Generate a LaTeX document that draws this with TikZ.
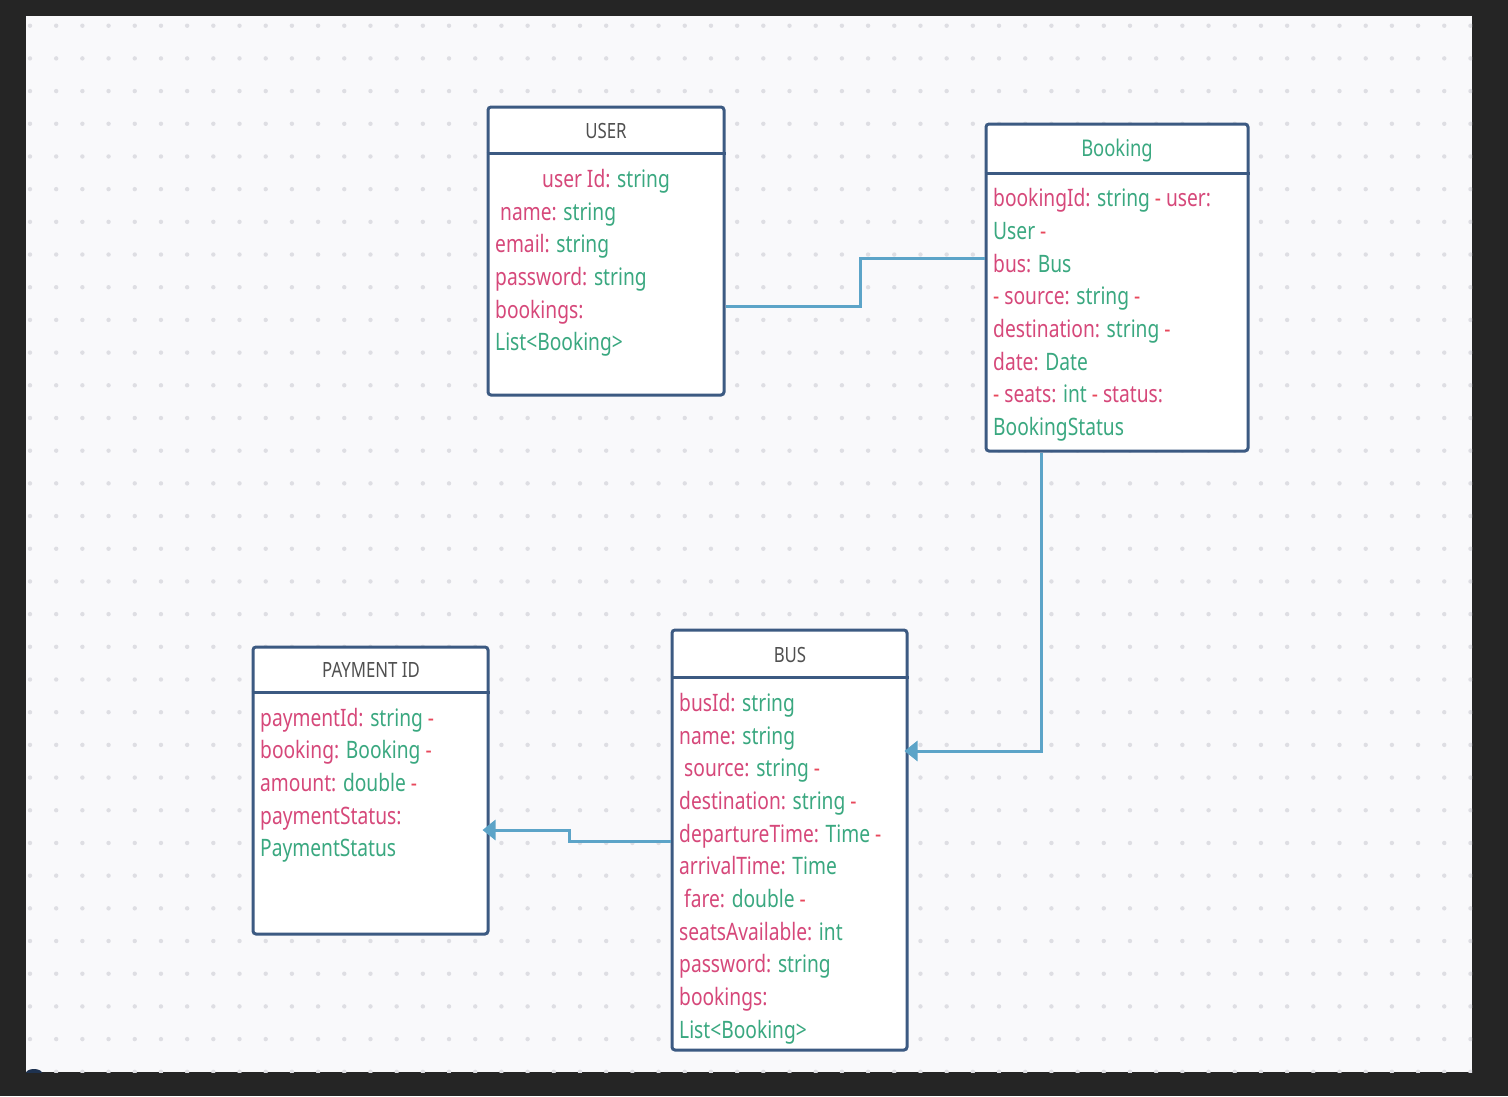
\documentclass[tikz,border=0pt]{standalone}
\usepackage{fontspec}
\setmainfont{Noto Sans}[FakeStretch=0.8]
\usetikzlibrary{arrows.meta,calc}

\definecolor{frame}{RGB}{37,37,37}
\definecolor{canvas}{RGB}{249,249,251}
\definecolor{dotc}{RGB}{222,222,227}
\definecolor{boxc}{RGB}{60,90,130}
\definecolor{linkc}{RGB}{92,164,200}
\definecolor{attrc}{RGB}{214,72,122}
\definecolor{typec}{RGB}{58,168,128}
\definecolor{dashc}{RGB}{232,72,92}
\definecolor{titlec}{RGB}{80,80,80}
\definecolor{cursorc}{RGB}{30,50,80}

\newcommand\attr[1]{\textcolor{attrc}{#1}}
\newcommand\typ[1]{\textcolor{typec}{#1}}
\newcommand\dsh{\textcolor{dashc}{-}}

\tikzset{
  classbox/.style={draw=boxc, line width=3pt, fill=white, rounded corners=3pt, inner sep=0pt},
  divider/.style={draw=boxc, line width=3pt},
  title/.style={inner sep=0pt, font=\fontsize{21}{26}\selectfont, text=titlec},
  fld/.style={anchor=mid west, inner sep=0pt, font=\fontsize{24}{29}\selectfont},
  link/.style={draw=linkc, line width=3pt},
  linkarrow/.style={link, -{Triangle[length=13pt,width=20pt]}}
}

\begin{document}
\begin{tikzpicture}[x=1pt,y=-1pt]
\useasboundingbox (0,0) rectangle (1508,1096);
% frame and dotted canvas
\fill[frame] (0,0) rectangle (1508,1096);
\fill[canvas] (26,16) rectangle (1472,1072);
\begin{scope}
  \clip (26,16) rectangle (1472,1072);
  \foreach \i in {0,...,55}
    \foreach \j in {0,...,32}
      \fill[dotc] ({30+26.19*\i},{25.7+32.69*\j}) circle (2.2pt);
  \fill[cursorc] (34,1073) ellipse (8pt and 4pt);
\end{scope}

% ---- USER ----
\node[classbox, minimum width=236pt, minimum height=288pt] (user) at (606,251) {};
\draw[divider] (user.west |- 0,153) -- (user.east |- 0,153);
\node[title] (usert) at (606,131) {USER};
\node[fld] (u1) at (542,185) {\attr{user Id:} \typ{string}};
\node[fld] (u2) at (500,218) {\attr{name:} \typ{string}};
\node[fld] (u3) at (495,250) {\attr{email:} \typ{string}};
\node[fld] (u4) at (495,283) {\attr{password:} \typ{string}};
\node[fld] (u5) at (495,316) {\attr{bookings:}};
\node[fld] (u6) at (495,348) {\typ{List<Booking>}};

% ---- Booking ----
\node[classbox, minimum width=262pt, minimum height=327pt] (booking) at (1117,287.5) {};
\draw[divider] (booking.west |- 0,173) -- (booking.east |- 0,173);
\node[title, text=typec, font=\fontsize{23}{28}\selectfont] (bookingt) at (1117,151) {Booking};
\node[fld] (b1) at (993,204) {\attr{bookingId:} \typ{string} \dsh{} \attr{user:}};
\node[fld] (b2) at (993,237) {\typ{User} \dsh};
\node[fld] (b3) at (993,270) {\attr{bus:} \typ{Bus}};
\node[fld] (b4) at (993,302) {\dsh{} \attr{source:} \typ{string} \dsh};
\node[fld] (b5) at (993,335) {\attr{destination:} \typ{string} \dsh};
\node[fld] (b6) at (993,368) {\attr{date:} \typ{Date}};
\node[fld] (b7) at (993,400) {\dsh{} \attr{seats:} \typ{int} \dsh{} \attr{status:}};
\node[fld] (b8) at (993,433) {\typ{BookingStatus}};

% ---- PAYMENT ID ----
\node[classbox, minimum width=235pt, minimum height=287pt] (payment) at (370.5,790.5) {};
\draw[divider] (payment.west |- 0,692) -- (payment.east |- 0,692);
\node[title] (paymentt) at (371,670) {PAYMENT ID};
\node[fld] (p1) at (260,724) {\attr{paymentId:} \typ{string} \dsh};
\node[fld] (p2) at (260,756) {\attr{booking:} \typ{Booking} \dsh};
\node[fld] (p3) at (260,789) {\attr{amount:} \typ{double} \dsh};
\node[fld] (p4) at (260,822) {\attr{paymentStatus:}};
\node[fld] (p5) at (260,854) {\typ{PaymentStatus}};

% ---- BUS ----
\node[classbox, minimum width=235pt, minimum height=420pt] (bus) at (789.5,840) {};
\draw[divider] (bus.west |- 0,677) -- (bus.east |- 0,677);
\node[title] (bust) at (790,655) {BUS};
\node[fld] (s1)  at (679,709)  {\attr{busId:} \typ{string}};
\node[fld] (s2)  at (679,742)  {\attr{name:} \typ{string}};
\node[fld] (s3)  at (684,774)  {\attr{source:} \typ{string} \dsh};
\node[fld] (s4)  at (679,807)  {\attr{destination:} \typ{string} \dsh};
\node[fld] (s5)  at (679,840)  {\attr{departureTime:} \typ{Time} \dsh};
\node[fld] (s6)  at (679,872)  {\attr{arrivalTime:} \typ{Time}};
\node[fld] (s7)  at (684,905)  {\attr{fare:} \typ{double} \dsh};
\node[fld] (s8)  at (679,938)  {\attr{seatsAvailable:} \typ{int}};
\node[fld] (s9)  at (679,970)  {\attr{password:} \typ{string}};
\node[fld] (s10) at (679,1003) {\attr{bookings:}};
\node[fld] (s11) at (679,1036) {\typ{List<Booking>}};

% ---- connectors ----
\draw[link] ([yshift=-55pt]user.east) -- ++(135,0) |- ([yshift=29.5pt]booking.west);
\draw[linkarrow, shorten >=-4pt] ([xshift=-76pt]booking.south) |- ([yshift=89pt]bus.east);
\draw[linkarrow, shorten >=-7pt] ([yshift=-1pt]bus.west) -- ++(-101,0) |- ([yshift=-39.5pt]payment.east);
\end{tikzpicture}
\end{document}
